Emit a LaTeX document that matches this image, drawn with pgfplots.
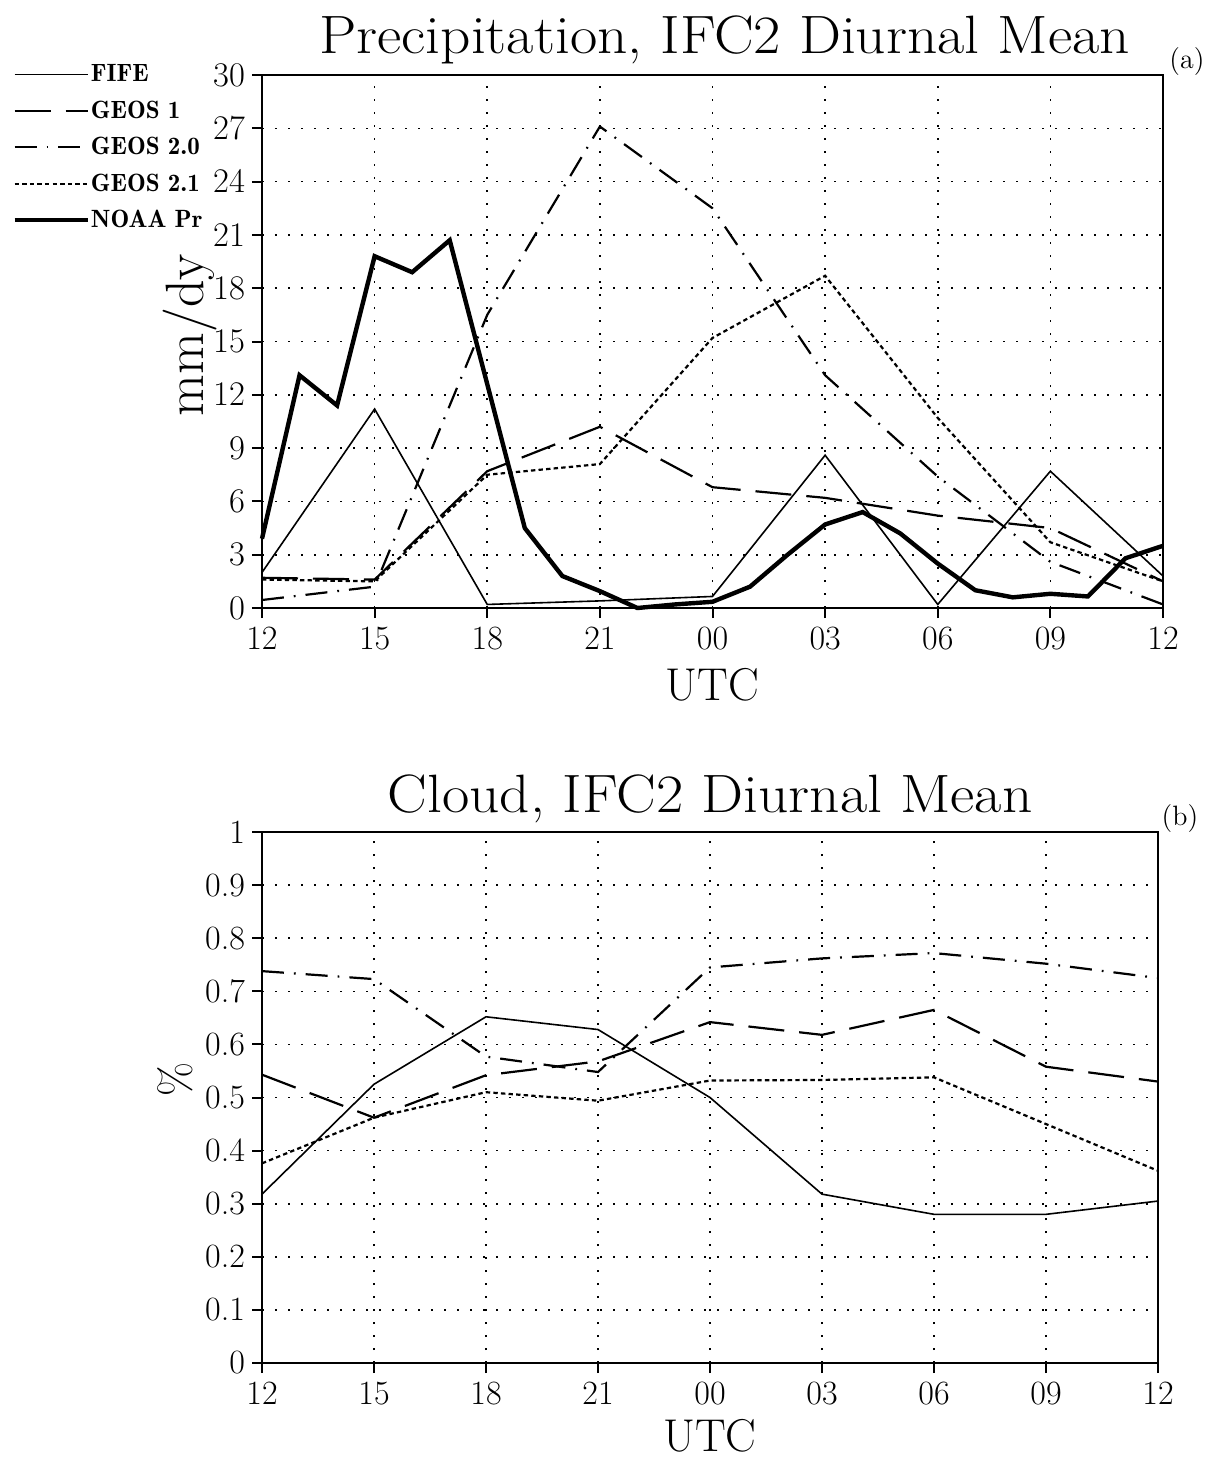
\documentclass[border=0pt]{standalone}
\usepackage{pgfplots}
\usepackage{graphicx}
\pgfplotsset{compat=1.18}
\pgfplotsset{
  common/.style={
    scale only axis,
    xmin=0, xmax=24,
    xtick={0,3,...,24},
    xticklabels={12,15,18,21,00,03,06,09,12},
    tick align=outside,
    major tick length=5pt,
    xtick pos=bottom, ytick pos=left,
    grid=major,
    grid style={line width=0.8pt, dash pattern=on 0.8pt off 5.7pt, black},
    axis line style={line width=1.2pt},
    every tick/.style={line width=1pt, black},
    tick label style={font=\fontsize{17}{17}\selectfont},
    xticklabel style={yshift=-1pt},
    clip=false,
  },
  fife/.style={black, line width=0.8pt},
  geosone/.style={black, line width=1.1pt, dash pattern=on 18pt off 7.5pt},
  geostwo/.style={black, line width=1.1pt, dash pattern=on 11pt off 5pt on 0.9pt off 5pt},
  geostwoone/.style={black, line width=1.1pt, dash pattern=on 2.2pt off 1.6pt},
  noaa/.style={black, line width=2.2pt},
}
\begin{document}
\begin{tikzpicture}
\path[use as bounding box] (0,0) rectangle (608pt,-730pt);

% ---------------- Panel (a) ----------------
\begin{axis}[common,
  at={(131pt,-304pt)}, anchor=south west,
  width=450.5pt, height=266.5pt,
  ymin=0, ymax=30, ytick={0,3,...,30},
  legend style={at={(axis description cs:-0.2775,1.0225)}, anchor=north west,
    draw=none, fill=none, font=\fontseries{b}\fontsize{12.5}{12.5}\selectfont,
    row sep=6.8pt, inner sep=0pt, column sep=0pt,
    nodes={inner sep=0.6pt, anchor=west}},
  legend cell align=left,
  legend image code/.code={\draw[#1] (0pt,0pt) -- (36.5pt,0pt);},
]
\addplot[fife] coordinates {(0,2.0) (3,11.2) (6,0.2) (9,0.4) (12,0.65) (15,8.6) (18,0.2) (21,7.7) (24,1.8)};
\addlegendentry{FIFE}
\addplot[geosone] coordinates {(0,1.7) (3,1.6) (6,7.7) (9,10.2) (12,6.8) (15,6.2) (18,5.2) (21,4.5) (24,1.5)};
\addlegendentry{GEOS 1}
\addplot[geostwo] coordinates {(0,0.45) (3,1.2) (6,16.5) (9,27.1) (12,22.5) (15,13.1) (18,7.4) (21,2.6) (24,0.2)};
\addlegendentry{GEOS 2.0}
\addplot[geostwoone] coordinates {(0,1.6) (3,1.5) (6,7.5) (9,8.1) (12,15.2) (15,18.7) (18,10.7) (21,3.7) (24,1.5)};
\addlegendentry{GEOS 2.1}
\addplot[noaa] coordinates {(0,3.9) (1,13.1) (2,11.4) (3,19.8) (4,18.9) (5,20.7) (6,12.6) (7,4.5) (8,1.8) (9,0.95) (10,0.0) (11,0.2) (12,0.35) (13,1.2) (14,3.0) (15,4.7) (16,5.4) (17,4.2) (18,2.5) (19,1.0) (20,0.6) (21,0.8) (22,0.65) (23,2.8) (24,3.5)};
\addlegendentry{NOAA Pr}
\node[anchor=base, font=\fontsize{27}{27}\selectfont] at (axis description cs:0.5135,1) [yshift=11pt] {\scalebox{1.1}[1]{Precipitation, IFC2 Diurnal Mean}};
\node[font=\fontsize{14}{14}\selectfont] at (axis description cs:1.0266,1.025) {(a)};
\node[rotate=90, font=\fontsize{27}{27}\selectfont] at (axis description cs:-0.08,0.512) {mm/dy};
\node[anchor=base, inner sep=0pt, font=\fontsize{23}{23}\selectfont] at (axis description cs:0.5,0) [yshift=-46pt] {UTC};
\end{axis}

% ---------------- Panel (b) ----------------
\begin{axis}[common,
  at={(131pt,-681.5pt)}, anchor=south west,
  width=448pt, height=265.5pt,
  ymin=0, ymax=1, ytick={0,0.1,0.2,0.3,0.4,0.5,0.6,0.7,0.8,0.9,1},
  yticklabels={0,0.1,0.2,0.3,0.4,0.5,0.6,0.7,0.8,0.9,1},
]
\addplot[fife] coordinates {(0,0.318) (3,0.525) (6,0.652) (9,0.628) (12,0.5) (15,0.318) (18,0.28) (21,0.28) (24,0.305)};
\addplot[geosone] coordinates {(0,0.543) (3,0.462) (6,0.542) (9,0.568) (12,0.642) (15,0.618) (18,0.665) (21,0.558) (24,0.53)};
\addplot[geostwo] coordinates {(0,0.738) (3,0.723) (6,0.577) (9,0.548) (12,0.745) (15,0.762) (18,0.772) (21,0.752) (24,0.725)};
\addplot[geostwoone] coordinates {(0,0.376) (3,0.462) (6,0.51) (9,0.494) (12,0.532) (15,0.533) (18,0.538) (21,0.45) (24,0.362)};
\node[anchor=base, font=\fontsize{27}{27}\selectfont] at (axis description cs:0.5,1) [yshift=10pt] {\scalebox{1.1}[1]{Cloud, IFC2 Diurnal Mean}};
\node[font=\fontsize{14}{14}\selectfont] at (axis description cs:1.0245,1.026) {(b)};
\node[rotate=90, font=\fontsize{22}{22}\selectfont] at (axis description cs:-0.097,0.533) {\%};
\node[anchor=base, inner sep=0pt, font=\fontsize{23}{23}\selectfont] at (axis description cs:0.5,0) [yshift=-44pt] {UTC};
\end{axis}
\end{tikzpicture}
\end{document}
